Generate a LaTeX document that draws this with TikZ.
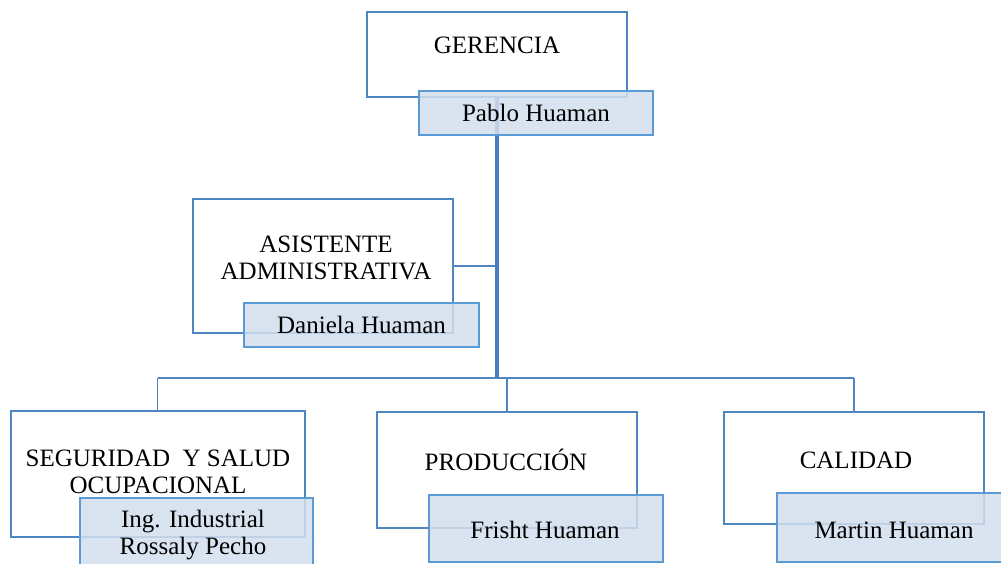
\documentclass[tikz,border=0pt]{standalone}
\usepackage{fontspec}
\setmainfont{Liberation Serif}
\definecolor{unitline}{HTML}{4F86C2}
\definecolor{nameline}{HTML}{5B9BD5}
\definecolor{namefill}{HTML}{D3DFEE}
\definecolor{trunkline}{HTML}{4A7EBB}
\begin{document}
\begin{tikzpicture}[x=1pt,y=-1pt,
  unitbox/.style={draw=unitline,line width=2pt,fill=white,inner sep=0pt},
  namebox/.style={draw=nameline,line width=2.3pt,fill=namefill,fill opacity=0.85,draw opacity=1,inner sep=0pt},
  caption/.style={font=\fontsize{25}{26.5}\selectfont,align=center,inner sep=0pt,text=black},
  link/.style={draw=unitline,line width=1.8pt},
  trunk/.style={draw=trunkline,line width=3.6pt}]
\useasboundingbox (0,0) rectangle (1001,564);
\clip (0,0) rectangle (1001,564);

% unit boxes
\node[unitbox,minimum width=260pt,minimum height=85pt]  (ger)  at (497,54.5) {};
\node[unitbox,minimum width=260pt,minimum height=134pt] (asis) at (323,266) {};
\node[unitbox,minimum width=294pt,minimum height=126pt] (seg)  at (157.5,474) {};
\node[unitbox,minimum width=260pt,minimum height=116pt] (prod) at (507,470) {};
\node[unitbox,minimum width=260pt,minimum height=112pt] (cal)  at (854,468) {};

% connectors
\coordinate (bus) at (497,378);
\coordinate (busL) at (seg.north |- bus);
\coordinate (busR) at (cal.north |- bus);
\coordinate (asisJ) at (bus |- asis.east);
\draw[link] (busL) -- (busR);
\draw[link] (busL) -- (seg.north);
\draw[link] (prod.north |- bus) -- (prod.north);
\draw[link] (busR) -- (cal.north);
\draw[link] (asis.east) -- (asisJ);
\draw[trunk] (ger.south) -- (bus);

% unit titles
\node[caption] (tger)  at (497,45) {GERENCIA};
\node[caption] (tasis) at (326,258) {ASISTENTE\\ADMINISTRATIVA};
\node[caption] (tseg)  at (158,472) {SEGURIDAD~ Y SALUD\\OCUPACIONAL};
\node[caption] (tprod) at (506,460) {PRODUCCIÓN};
\node[caption] (tcal)  at (856,460) {CALIDAD};

% name tags
\node[namebox,minimum width=234pt,minimum height=44pt] (pablo) at (536,113) {};
\node[namebox,minimum width=235pt,minimum height=44pt] (dan)   at (361.5,325) {};
\node[namebox,minimum width=233pt,minimum height=72pt] (ing)   at (196.5,534) {};
\node[namebox,minimum width=234pt,minimum height=67pt] (fri)   at (546,528.5) {};
\node[namebox,minimum width=234pt,minimum height=69pt] (mar)   at (894,527.5) {};

\node[caption] (npablo) at (pablo.center) {Pablo Huaman};
\node[caption] (ndan)   at (dan.center) {Daniela Huaman};
\node[caption] (ning)   at (193,535) {Ing. Industrial\\Rossaly Pecho};
\node[caption] (nfri)   at (545,530) {Frisht Huaman};
\node[caption] (nmar)   at (894,530) {Martin Huaman};
\end{tikzpicture}
\end{document}
